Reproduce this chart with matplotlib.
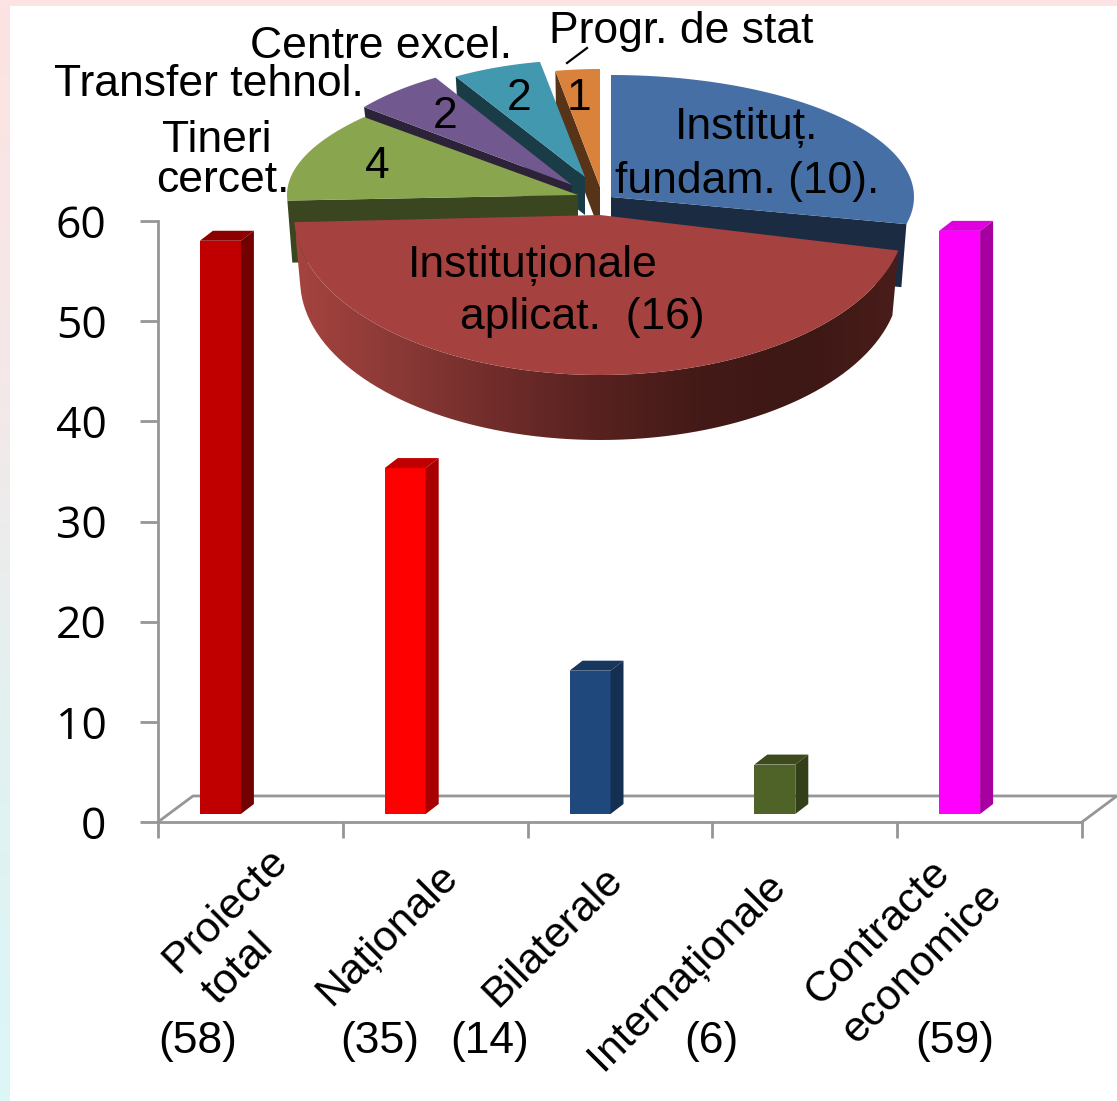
import numpy as np
import matplotlib
matplotlib.use('Agg')
import matplotlib.pyplot as plt
from matplotlib.colors import LinearSegmentedColormap
from matplotlib.patches import Polygon

W, H = 1117, 1101

# column chart
bar_names = ['Proiecte total', 'Naționale', 'Bilaterale', 'Internaționale', 'Contracte economice']
bar_values = [58, 35, 14.5, 5, 59]
bar_counts = ['(58)', '(35)', '(14)', '(6)', '(59)']
y_ticks = [0, 10, 20, 30, 40, 50, 60]

# pie chart, clockwise from the top
pie_names = ['Instituț. fundam.', 'Instituționale aplicat.', 'Tineri cercet.',
             'Transfer tehnol.', 'Centre excel.', 'Progr. de stat']
pie_values = [10, 16, 4, 2, 2, 1]

bar_front = ['#c00000', '#ff0000', '#1f497d', '#4f6228', '#ff00ff']
bar_top = ['#8c0000', '#c00000', '#17375e', '#3c4a1e', '#e000e0']
bar_side = ['#730000', '#a80000', '#142f52', '#333f18', '#a800a0']

pie_top = ['#4670a5', '#a5423f', '#89a54e', '#71588f', '#4198af', '#d8823c']
pie_dark = ['#1b2c42', '#4a1d19', '#3a4620', '#2d2339', '#1a3c46', '#573418']
# slices are exploded and in perspective, so each has its own apex and radii
pie_cx = [611, 600, 578, 572, 585, 600]
pie_cy = [197, 215, 195, 185, 177, 187]
pie_rx = [303, 306, 291, 266, 252, 250]
pie_ry = [122, 160, 125, 125, 117, 118]
pie_bend = [1, 1, 1.25, 1, 1, 1]
pie_depth = [63, 65, 62, 30, 38, 45]


def axes_px(left, top, right, bottom, **kw):
    return fig.add_axes([left / W, 1 - bottom / H, (right - left) / W, (bottom - top) / H], **kw)


def rim(cx, cy, rx, ry, a0, a1, n=80, bend=1):
    a = np.radians(np.linspace(a0, a1, n))
    c = np.cos(a)
    return np.column_stack([cx + rx * np.sign(c) * np.abs(c) ** bend, cy - ry * np.sin(a)])


fig = plt.figure(figsize=(W / 100, H / 100), dpi=100, facecolor='white')
plt.rcParams['font.family'] = ['Liberation Sans', 'DejaVu Sans']

# value axis and floor
grey = '#969696'
ax = axes_px(158, 221, 1082, 822, zorder=1)
ax.set_xlim(0, 5)
ax.set_ylim(0, 60)
ax.patch.set_alpha(0)
for s in ['top', 'right']:
    ax.spines[s].set_visible(False)
for s in ['left', 'bottom']:
    ax.spines[s].set_color(grey)
    ax.spines[s].set_linewidth(2)
ax.set_xticks(range(6))
ax.set_xticklabels([])
ax.set_yticks(y_ticks)
ax.tick_params(axis='x', length=11.5, width=2, color=grey)
ax.tick_params(axis='y', length=13, width=2, color=grey, pad=24, labelsize=32)
for t in ax.get_yticklabels():
    t.set_fontfamily('Open Sans')
floor_dx, floor_dy = 35 / 184.8, 2.6
ax.plot([0, floor_dx, 5 + floor_dx, 5], [0, floor_dy, floor_dy, 0], color=grey, lw=2, clip_on=False)

# bars sit a little in front of the floor
bx = axes_px(128, 221, 1052, 814, zorder=2)
bx.set_xlim(0, 5)
bx.set_ylim(0, 60)
bx.axis('off')
xs = np.arange(len(bar_values)) + 0.5
bw = 41 / 184.8
dx, dy = 13 / 184.8, 10 / 9.88
bx.bar(xs, bar_values, width=bw, color=bar_front, zorder=3)
for x, v, ct, cs in zip(xs, bar_values, bar_top, bar_side):
    l, r = x - bw / 2, x + bw / 2
    bx.fill([l, r, r + dx, l + dx], [v, v, v + dy, v + dy], color=ct, lw=0, clip_on=False, zorder=3)
    bx.fill([r, r + dx, r + dx, r], [0, dy, v + dy, v], color=cs, lw=0, clip_on=False, zorder=3)

# overlay in pixel coordinates for the pie and the loose labels
px = fig.add_axes([0, 0, 1, 1], zorder=3)
px.patch.set_alpha(0)
px.axis('off')

# slide background edge
edge = LinearSegmentedColormap.from_list('edge', ['#fde3e3', '#f5e8e8', '#e2f1f1', '#dcf6f6'])
px.imshow(np.linspace(0, 1, 200)[:, None], cmap=edge, extent=(0, 10, H, 0), aspect='auto', zorder=0)
px.fill([0, W, W, 0], [0, 0, 6, 6], color='#fde3e3', lw=0, zorder=0)

# pie, back slices first
angles = 90 - np.cumsum([0] + pie_values) / sum(pie_values) * 360
order = [5, 4, 3, 2, 0, 1]
for z, i in enumerate(order):
    a0, a1 = angles[i], angles[i + 1]
    cx, cy, rx, ry, d = pie_cx[i], pie_cy[i], pie_rx[i], pie_ry[i], pie_depth[i]
    top = rim(cx, cy, rx, ry, a0, a1, bend=pie_bend[i])
    if i == 1:
        low = rim(cx, cy + d, rx * 0.98, ry, a1, a0)
        shape = Polygon(np.vstack([top, low]), closed=True, fc='none', ec='none', zorder=z + 5)
        px.add_patch(shape)
        side = LinearSegmentedColormap.from_list(
            'side', ['#a5433f', '#8a3936', '#6f2c2a', '#57211f', '#431a17', '#3d1815', '#4a1d19'])
        im = px.imshow(np.linspace(0, 1, 300)[None, :], cmap=side, extent=(296, 905, 450, 230),
                       aspect='auto', zorder=z + 5)
        im.set_clip_path(shape)
    else:
        # cut face below the lower edge of the slice
        a = a0 if np.sin(np.radians(a0)) < np.sin(np.radians(a1)) else a1
        ox, oy = rim(cx, cy, rx, ry, a, a, 1, bend=pie_bend[i])[0]
        px.fill([cx, ox, ox + (cx - ox) * 0.017, cx], [cy, oy, oy + d, cy + d],
                color=pie_dark[i], lw=0, zorder=z + 5)
    px.add_patch(Polygon(np.vstack([[cx, cy], top]), closed=True, fc=pie_top[i], ec='none', zorder=z + 5))

px.plot([567, 587], [63, 48], color='black', lw=1.6, zorder=20)

px.set_xlim(0, W)
px.set_ylim(H, 0)

tx = dict(ha='center', va='center', color='black', fontsize=32, zorder=21)
px.text(681, 32, 'Progr. de stat', **tx)
px.text(381, 47, 'Centre excel.', **tx)
px.text(209, 85, 'Transfer tehnol.', **tx)
px.text(217, 140, 'Tineri', **tx)
px.text(223, 180, 'cercet.', **tx)
for x, y, v in zip([377, 445, 519, 579], [167, 117, 99, 99], pie_values[2:]):
    px.text(x, y, str(v), **tx)
px.text(747, 128, 'Instituț.', **tx)
px.text(747, 181, 'fundam. (10).', **tx)
px.text(533, 265, 'Instituționale', **tx)
px.text(582, 317, 'aplicat.  (16)', **tx)

rot = dict(ha='center', va='center', rotation=45, rotation_mode='anchor', color='black', fontsize=31, zorder=21)
px.text(226, 910, 'Proiecte', **rot)
px.text(238, 969, 'total', **rot)
px.text(388, 935, bar_names[1], **rot)
px.text(553, 937, bar_names[2], **rot)
px.text(687, 972, bar_names[3], **rot)
px.text(878, 932, 'Contracte', **rot)
px.text(922, 964, 'economice', **rot)
for x, c in zip([198, 380, 490, 711, 955], bar_counts):
    px.text(x, 1041, c, **tx)

fig.savefig('out.png', dpi=100)
